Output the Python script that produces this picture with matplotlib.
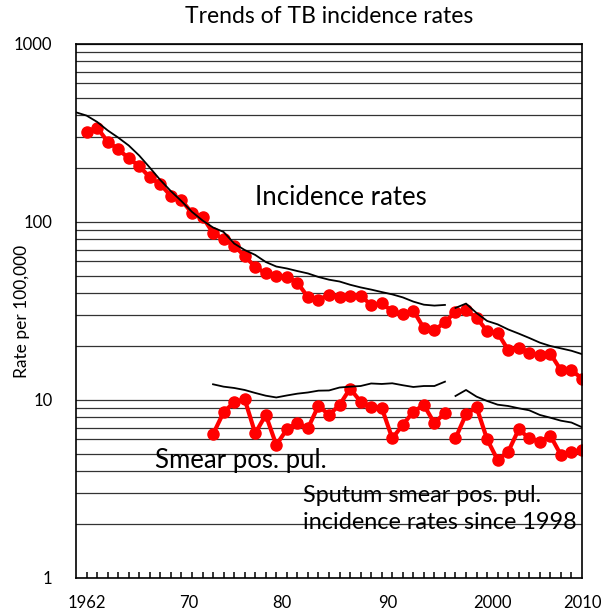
import matplotlib
matplotlib.use("Agg")
import matplotlib.pyplot as plt
from matplotlib.ticker import FixedLocator, NullFormatter

plt.rcParams['font.family'] = ['Lato', 'DejaVu Sans']

# incidence rates (red dots), 1963-2010
years_inc = list(range(1963, 2011))
inc_rate = [321, 339, 283, 256, 228, 206, 178, 163, 140, 133,
            112, 107, 86.7, 80.2, 73.6, 64.4, 55.9, 51.4, 49.5, 49.3,
            45.6, 37.9, 36.5, 39.1, 37.9, 38.6, 38.5, 34.2, 34.9, 31.5,
            30.5, 31.8, 25.3, 24.6, 27.4, 31.3, 32.0, 29.0, 24.4, 23.8,
            19.1, 19.7, 18.4, 17.9, 18.2, 14.7, 14.7, 13.2]

# black reference line for incidence, two pieces
years_ref1 = list(range(1962, 1998))
ref_inc1 = [413, 396, 365, 327, 298, 269, 236, 202, 172, 149,
            131, 114, 102, 93.1, 87.9, 75.7, 69.6, 65.3, 59.6, 56.2,
            54.8, 53.0, 51.4, 49.1, 47.4, 46.3, 44.4, 42.9, 41.7, 40.4,
            39.2, 37.7, 35.7, 34.3, 33.9, 34.2]
years_ref2 = list(range(1998, 2011))
ref_inc2 = [32.9, 34.8, 30.8, 27.8, 26.6, 24.9, 23.6, 22.3, 21.0, 20.1,
            19.5, 18.9, 18.1]

# smear positive pulmonary (red dots)
years_sm1 = list(range(1975, 1998))
smear1 = [6.42, 8.53, 9.71, 10.1, 6.50, 8.24, 5.59, 6.84, 7.45, 6.93,
          9.29, 8.24, 9.37, 11.6, 9.78, 9.10, 9.05, 6.09, 7.24, 8.60,
          9.37, 7.40, 8.48]
years_sm2 = list(range(1998, 2011))
smear2 = [6.09, 8.31, 9.10, 6.01, 4.60, 5.12, 6.84, 6.09, 5.83, 6.30,
          4.91, 5.12, 5.24]

# black reference line for smear positive
ref_sm1 = [12.25, 11.88, 11.68, 11.38, 10.95, 10.57, 10.33, 10.60, 10.85, 11.02,
           11.28, 11.31, 11.75, 11.88, 11.98, 12.38, 12.30, 12.41, 12.10, 11.83,
           11.98, 11.98, 12.67]
ref_sm2 = [10.53, 11.38, 10.44, 9.87, 9.41, 9.25, 8.98, 8.75, 8.24, 7.95,
           7.65, 7.47, 7.03]

x_label_pos = [1963.0, 1972.7, 1981.5, 1991.6, 2001.5, 2010.0]
x_labels = ['1962', '70', '80', '90', '2000', '2010']
tick_years = list(range(1963, 2010))

fig = plt.figure(figsize=(6.15, 6.15), dpi=100)
ax = fig.add_axes([0.1236, 0.0602, 0.8227, 0.8683])

red = dict(color='#ff0000', lw=3, marker='o', markersize=8, solid_capstyle='round')
ax.plot(years_inc, inc_rate, **red)
ax.plot(years_sm1, smear1, **red)
ax.plot(years_sm2, smear2, **red)

blk = dict(color='black', lw=1.3)
ax.plot(years_ref1, ref_inc1, **blk)
ax.plot(years_ref2, ref_inc2, **blk)
ax.plot(years_sm1, ref_sm1, **blk)
ax.plot(years_sm2, ref_sm2, **blk)

ax.set_yscale('log')
ax.set_ylim(1, 1000)
ax.set_xlim(1962, 2010)

# horizontal grid at every 1..9 x 10^k
grid_vals = [m * 10 ** k for k in range(0, 3) for m in range(1, 10)] + [1000]
for g in grid_vals:
    ax.axhline(g, color='#333333', lw=0.9, zorder=0)

# small inward year ticks along the bottom (tick-up markers)
ax.plot(tick_years, [1] * len(tick_years), ls='none', marker=2,
        markersize=4.5, markeredgewidth=1.1, color='black',
        clip_on=False, zorder=6)

ax.yaxis.set_major_locator(FixedLocator([1, 10, 100, 1000]))
ax.yaxis.set_minor_formatter(NullFormatter())
ax.set_yticklabels(['1', '10', '100', '1000'], fontsize=12)
ax.tick_params(axis='y', which='major', length=0, pad=17)
ax.tick_params(axis='y', which='minor', length=0)

ax.set_xticks(x_label_pos)
ax.set_xticklabels(x_labels, fontsize=12)
ax.tick_params(axis='x', which='major', length=0, pad=12)

for s in ax.spines.values():
    s.set_linewidth(1.2)
    s.set_zorder(5)

fig.text(22 / 615, 1 - 311 / 615, 'Rate per 100,000', fontsize=12.5,
         rotation=90, ha='center', va='center')
ax.set_title('Trends of TB incidence rates', fontsize=16.5, pad=15)

ax.text(1979.0, 138, 'Incidence rates', fontsize=18.5, va='center')
ax.text(1969.5, 4.6, 'Smear pos. pul.', fontsize=18.5, va='center')
ax.text(1983.5, 2.44, 'Sputum smear pos. pul.\nincidence rates since 1998',
        fontsize=16.8, linespacing=1.3, va='center')

fig.savefig('out.png', dpi=100)
